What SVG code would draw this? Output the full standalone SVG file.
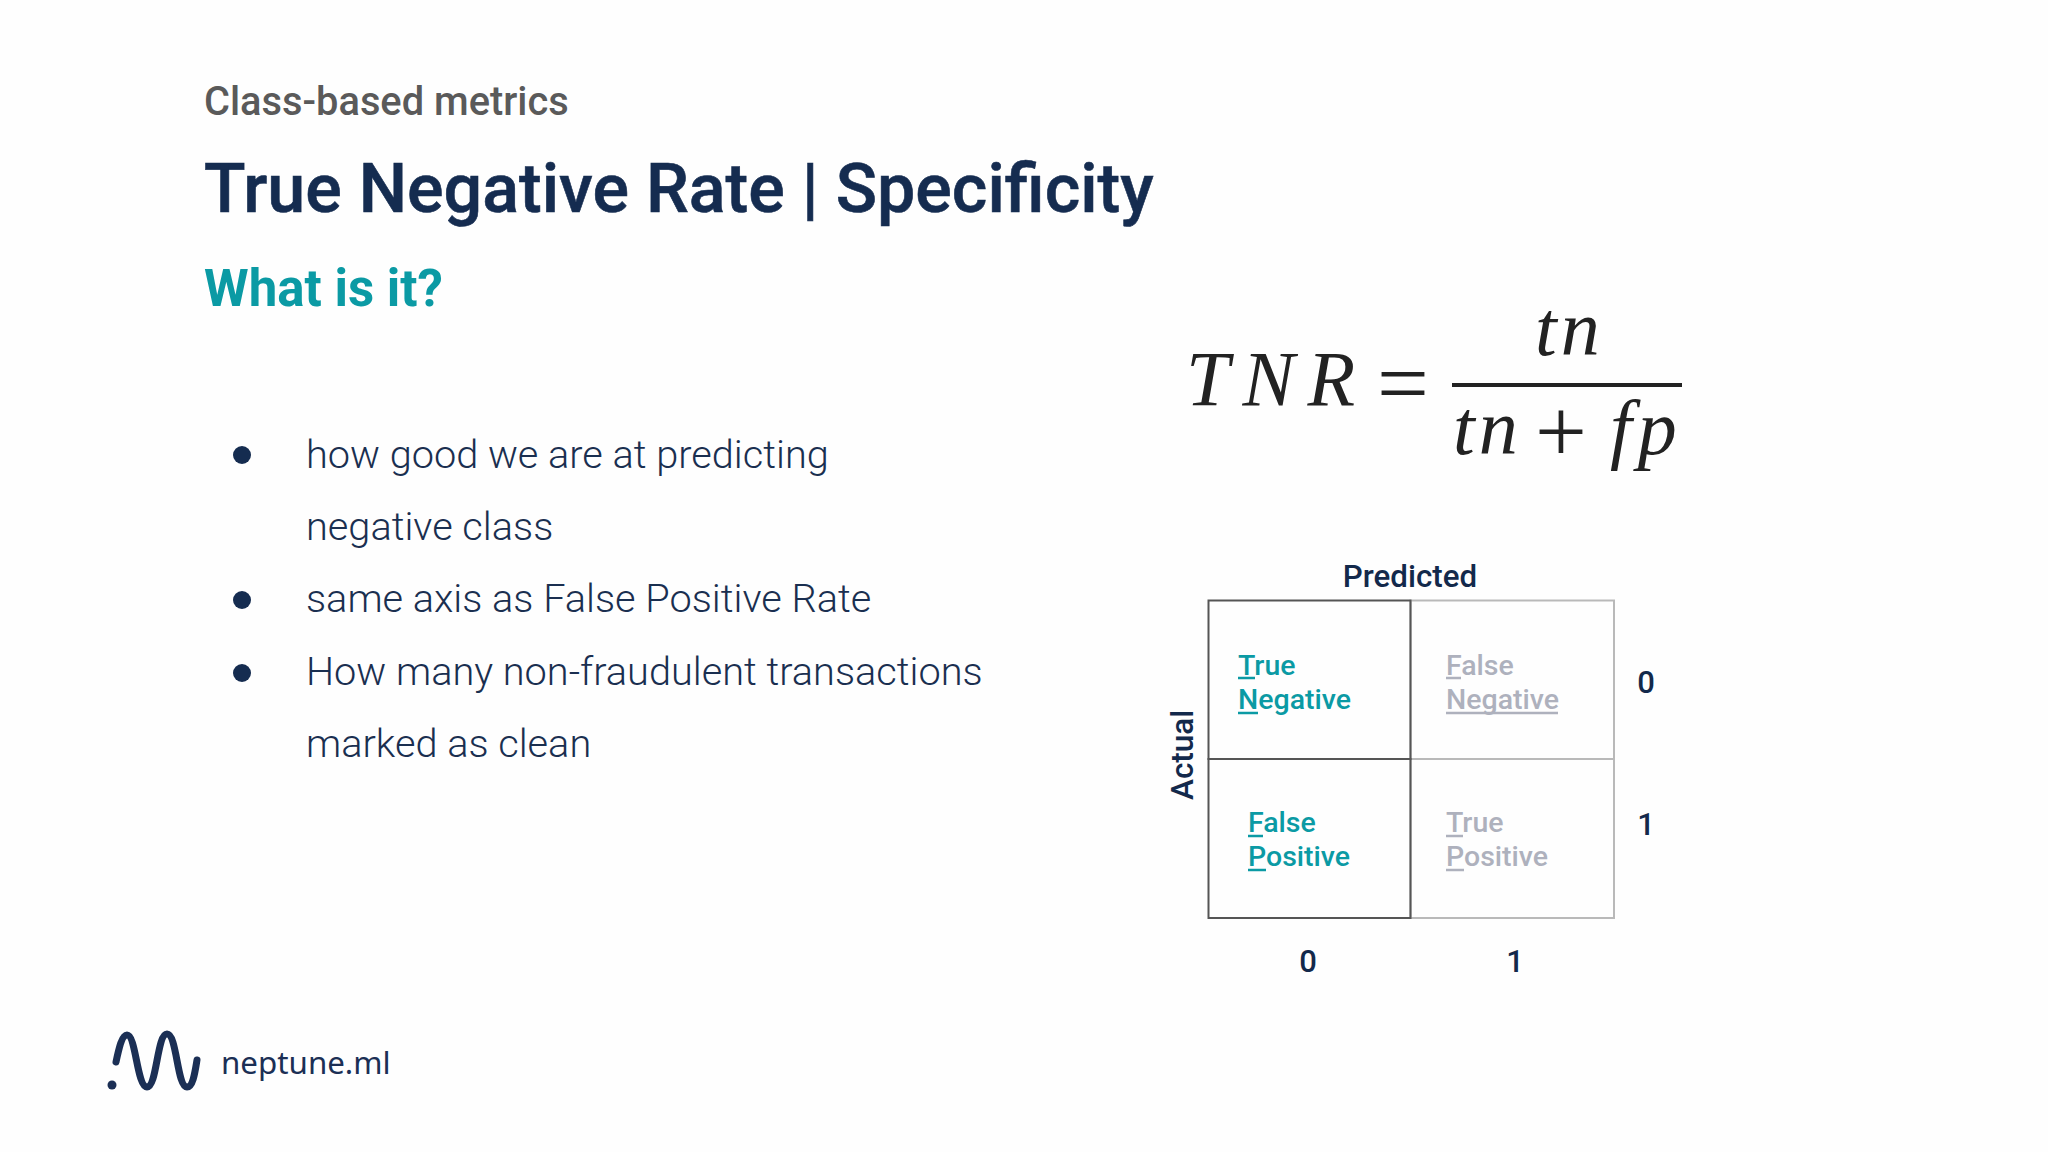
<svg xmlns="http://www.w3.org/2000/svg" width="2048" height="1152" viewBox="0 0 2048 1152">
<style>
text{font-family:Roboto,"Liberation Sans",sans-serif}
.b{font-size:39.700px;font-weight:300;fill:#1a2f50}
.c{font-size:28.500px;font-weight:500}
.t{fill:#0b9aa4}.g{fill:#aeb1bd}
.n{font-size:31px;font-weight:500;fill:#13294b;text-anchor:middle}
.m{font-family:"Liberation Serif",serif;font-style:italic;fill:#222;font-size:78px}
.r{font-family:"Liberation Serif",serif;fill:#222}
.u1{stroke:#0b9aa4;stroke-width:2.500}.u2{stroke:#aeb1bd;stroke-width:2.500}
</style>
<rect width="2048" height="1152" fill="#fefefe"/>
<g id="header">
<text x="204" y="115" font-size="39.800" font-weight="500" fill="#5a5a5a">Class-based metrics</text>
<text x="204" y="212" font-size="68.200" font-weight="500" fill="#152c50" stroke="#152c50" stroke-width="0.600">True Negative Rate | Specificity</text>
<text x="204" y="306" font-size="51" font-weight="700" fill="#0b9aa4">What is it?</text>
</g>
<g id="bullets">
<circle cx="242" cy="455" r="9" fill="#152c50"/><circle cx="242" cy="600" r="9" fill="#152c50"/><circle cx="242" cy="673" r="9" fill="#152c50"/>
<text class="b" x="306" y="467.500">how good we are at predicting</text>
<text class="b" x="306" y="539.500">negative class</text>
<text class="b" x="306" y="611.500">same axis as False Positive Rate</text>
<text class="b" x="306" y="684.500">How many non-fraudulent transactions</text>
<text class="b" x="306" y="756.500">marked as clean</text>
</g>
<g id="formula">
<text class="m" x="1186" y="405" letter-spacing="13">TNR</text>
<text class="r" x="1377" y="414" font-size="92">=</text>
<text class="m" x="1535" y="355" letter-spacing="4">tn</text>
<line x1="1452" y1="385" x2="1682" y2="385" stroke="#222" stroke-width="4"/>
<text class="m" x="1453" y="454" letter-spacing="4">tn</text>
<text class="r" x="1535" y="462" font-size="92">+</text>
<text class="m" x="1610" y="454" font-size="86" letter-spacing="6">fp</text>
</g>
<g id="matrix">
<text x="1410" y="587" font-size="31.300" font-weight="500" fill="#13294b" text-anchor="middle">Predicted</text>
<text transform="translate(1193 800) rotate(-90)" font-size="31.500" font-weight="500" fill="#13294b">Actual</text>
<g id="cell-fn"><rect x="1410.500" y="600.500" width="203.500" height="158.500" fill="none" stroke="#b9b9b9" stroke-width="2"/>
<text class="c g" x="1446" y="675">False</text><text class="c g" x="1446" y="709">Negative</text>
<line class="u2" x1="1446" y1="678" x2="1461" y2="678"/><line class="u2" x1="1446" y1="713" x2="1558" y2="713"/></g>
<g id="cell-tp"><rect x="1410.500" y="759" width="203.500" height="159" fill="none" stroke="#b9b9b9" stroke-width="2"/>
<text class="c g" x="1446" y="832">True</text><text class="c g" x="1446" y="866">Positive</text>
<line class="u2" x1="1446" y1="836" x2="1463" y2="836"/><line class="u2" x1="1446" y1="870" x2="1464" y2="870"/></g>
<g id="cell-tn"><rect x="1208.500" y="600.500" width="202" height="158.500" fill="none" stroke="#555" stroke-width="2"/>
<text class="c t" x="1238" y="675">True</text><text class="c t" x="1238" y="709">Negative</text>
<line class="u1" x1="1238" y1="678" x2="1255" y2="678"/><line class="u1" x1="1238" y1="713" x2="1258" y2="713"/></g>
<g id="cell-fp"><rect x="1208.500" y="759" width="202" height="159" fill="none" stroke="#555" stroke-width="2"/>
<text class="c t" x="1248" y="832">False</text><text class="c t" x="1248" y="866">Positive</text>
<line class="u1" x1="1248" y1="836" x2="1263" y2="836"/><line class="u1" x1="1248" y1="870" x2="1266" y2="870"/></g>
<text class="n" x="1646" y="693">0</text><text class="n" x="1646" y="835">1</text>
<text class="n" x="1308" y="972">0</text><text class="n" x="1515" y="972">1</text>
</g>
<g id="logo">
<path d="M116 1062C119 1048 122 1035 127 1035C136 1035 137 1087 147 1087C157 1087 157 1034 167 1034C177 1034 177 1087 187 1087C193 1087 195 1072 197 1060" fill="none" stroke="#1b2f55" stroke-width="7" stroke-linecap="round"/>
<circle cx="112" cy="1085" r="4.500" fill="#1b2f55"/>
<text x="221" y="1074" font-size="31.300" fill="#1b2f55" style="font-family:'Noto Sans',sans-serif">neptune.ml</text>
</g>
</svg>
